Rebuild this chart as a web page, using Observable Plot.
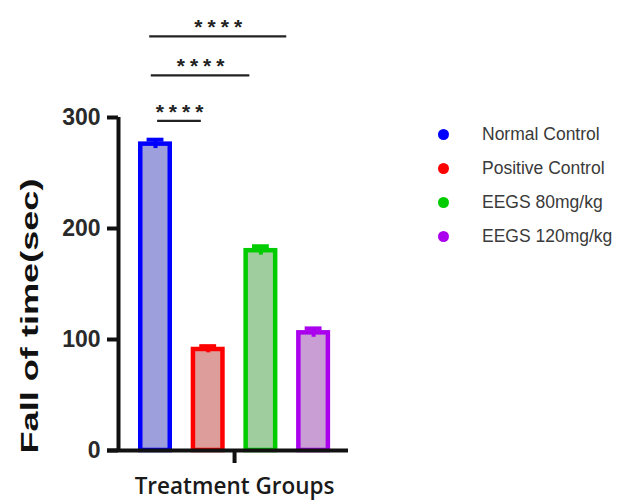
<!DOCTYPE html>
<html>
<head>
<meta charset="utf-8">
<script src="https://cdn.jsdelivr.net/npm/d3@7"></script>
<script src="https://cdn.jsdelivr.net/npm/@observablehq/plot@0.6"></script>
<style>
  body { margin: 0; background: #fff; }
  #wrap { position: relative; width: 633px; height: 502px; }
  #legend { position: absolute; left: 438px; top: 117px; font-family: "Liberation Sans", Arial, sans-serif; font-size: 17.5px; color: #3a3a3a; }
  #legend .row { display: flex; align-items: center; height: 34px; }
  #legend .dot { width: 11px; height: 11px; border-radius: 50%; margin-right: 33px; }
</style>
</head>
<body>
<div id="wrap"><div id="chart"></div><div id="legend"></div></div>
<script>
// Data
const groups = ["Normal Control", "Positive Control", "EEGS 80mg/kg", "EEGS 120mg/kg"];
const means  = [276, 91, 180, 106];
const sds    = [4, 3, 4, 4];
const strokeColors = ["#0000ff", "#ff0000", "#00cc00", "#aa00ee"];
const fillColors   = ["#9d9edc", "#dd9d9b", "#a0cd9d", "#c99ed4"];
const yTicks = [0, 100, 200, 300];

// significance brackets (start/end in group-index units, height in y units)
const sigStart  = [0.04, -0.08, -0.11];
const sigEnd    = [0.87, 1.79, 2.49];
const sigHeight = [297, 338, 373];
const sigLabel  = ["****", "****", "****"];

const data = groups.map((g, i) => ({group: g, i, mean: means[i], sd: sds[i], stroke: strokeColors[i], fill: fillColors[i]}));
const sig = sigStart.map((s, k) => ({x1: s, x2: sigEnd[k], y: sigHeight[k], label: sigLabel[k]}));

const half = 0.28, cap = 0.16;

const chart = Plot.plot({
  width: 633,
  height: 502,
  marginLeft: 118,
  marginRight: 285,
  marginTop: 117,
  marginBottom: 52,
  x: {type: "linear", domain: [-0.702, 3.662], axis: null},
  y: {domain: [0, 300], axis: null},
  style: {fontFamily: "'Liberation Sans', Arial, sans-serif", background: "#fff"},
  marks: [
    Plot.rectY(data, {x1: d => d.i - half, x2: d => d.i + half, y1: 0, y2: "mean", fill: "fill", stroke: "stroke", strokeWidth: 4.5}),
    Plot.ruleX(data, {x: "i", y1: d => d.mean - d.sd, y2: d => d.mean + d.sd, stroke: "stroke", strokeWidth: 4}),
    Plot.ruleY(data, {x1: d => d.i - cap, x2: d => d.i + cap, y: d => d.mean + d.sd, stroke: "stroke", strokeWidth: 4}),
    Plot.ruleX([-0.702], {y1: 0, y2: 300, stroke: "#111", strokeWidth: 4}),
    Plot.ruleY([0], {x1: -0.91, x2: 3.662, stroke: "#111", strokeWidth: 4}),
    Plot.axisY({ticks: yTicks, tickSize: 11, tickPadding: 7, fontSize: 23, fontWeight: "bold", fill: "#2a2a2a", stroke: "#111", strokeWidth: 4, label: null}),
    Plot.axisX({ticks: [1.5], tickSize: 13, tickFormat: () => "", stroke: "#111", strokeWidth: 4, label: null}),
    Plot.text(["Treatment Groups"], {x: 1.5, frameAnchor: "bottom", lineAnchor: "bottom", dy: 43, fontSize: 22.5, fontWeight: 600, fontFamily: "'Open Sans', sans-serif", fill: "#1a1a1a"}),
    Plot.text(["Fall of time(sec)"], {frameAnchor: "left", rotate: -90, textAnchor: "start", dx: -88, dy: 169.5, fontSize: 24, fontWeight: "bold", fill: "#111"}),
    Plot.ruleY(sig, {x1: "x1", x2: "x2", y: "y", stroke: "#222", strokeWidth: 2.2}),
    Plot.text(sig, {x: d => (d.x1 + d.x2) / 2, y: "y", text: "label", lineAnchor: "bottom", dy: -2, dx: 2.5, fontSize: 21, fontWeight: "bold", fill: "#222"})
  ]
});

document.getElementById("chart").appendChild(chart);

// stretch y label to the reference length
d3.select(chart).selectAll("text").filter(function() { return this.textContent === "Fall of time(sec)"; })
  .attr("textLength", 275).attr("lengthAdjust", "spacingAndGlyphs");
d3.select(chart).selectAll("text").filter(function() { return this.textContent === "****"; })
  .style("letter-spacing", "5px");

const legend = d3.select("#legend");
groups.forEach((g, i) => {
  const row = legend.append("div").attr("class", "row");
  row.append("div").attr("class", "dot").style("background", strokeColors[i]);
  row.append("span").text(g);
});
</script>
</body>
</html>
